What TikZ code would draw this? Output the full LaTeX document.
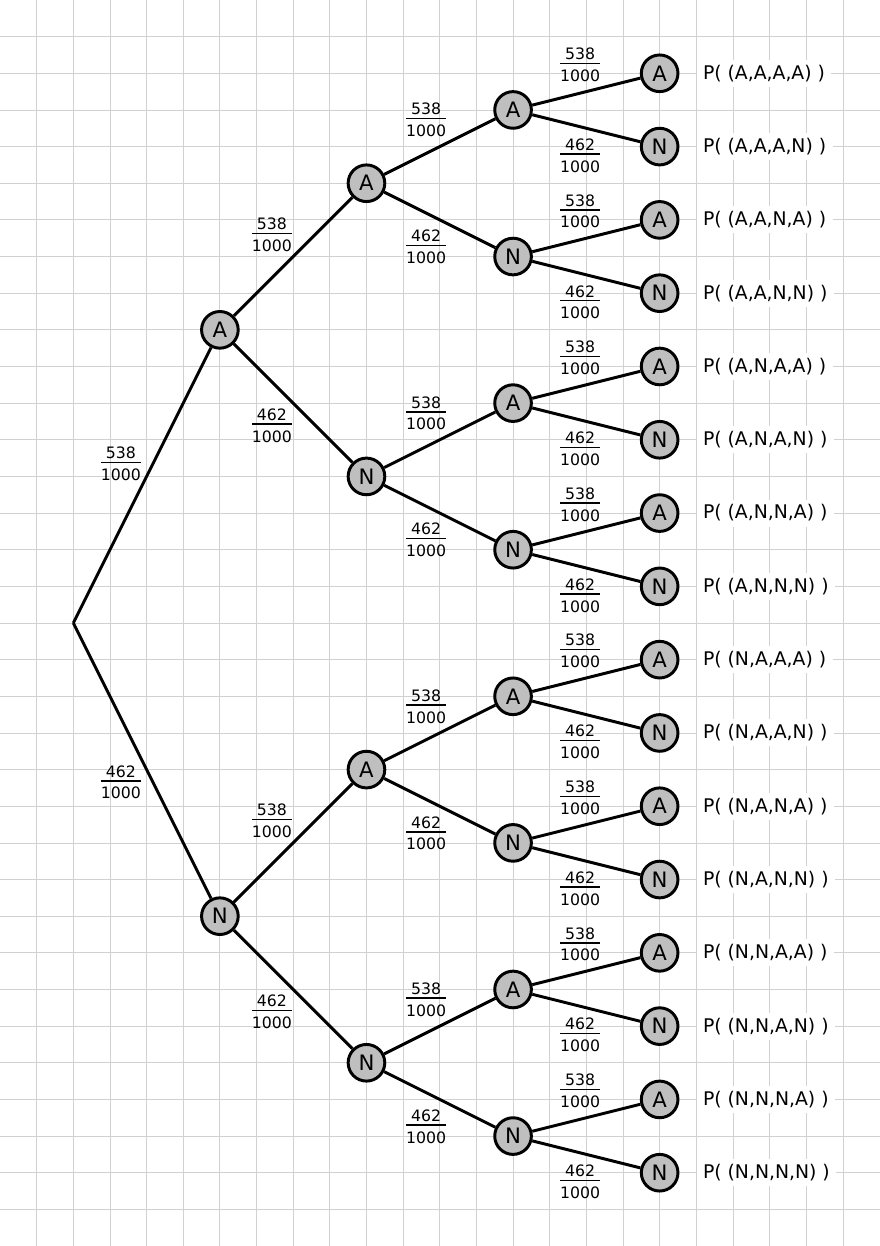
\documentclass[tikz,border=0pt]{standalone}
\usepackage{fontspec}
\setmainfont{DejaVu Sans}
\setlength\arrayrulewidth{1.1pt}
\newcommand\myfr[2]{\begin{tabular}{@{}c@{}}#1\\[-2pt]\hline\rule{0pt}{13.5pt}#2\end{tabular}}
\begin{document}
\begin{tikzpicture}[
  gridline/.style={draw=black!18, line width=0.6pt},
  st/.style={circle, draw=black, fill=black!25, line width=2.3pt, minimum size=1cm, inner sep=0pt, font=\fontsize{16.5}{19}\selectfont},
  edge/.style={draw=black, line width=2.3pt},
  frac/.style={inner sep=0pt, font=\fontsize{12.2}{14.6}\selectfont},
  ptext/.style={anchor=west, fill=white, inner xsep=5pt, inner ysep=4pt, font=\fontsize{14.6}{17}\selectfont}
]
\useasboundingbox (0,0) rectangle (24,-34);
\draw[gridline] (0.001,-0.001) grid[step=1] (23.999,-33.999);
\coordinate (r) at (2,-17);
\foreach \a/\ya/\sa/\pa in {A/9/-1/538, N/25/1/462} {
  \node[st] (\a) at (6,-\ya) {\a};
  \draw[edge] (r) -- (\a);
  \pgfmathsetmacro\la{-(17+\sa*4.34)-0.06}
  \node[frac] (f\a) at (3.30,\la) {\myfr{\pa}{1000}};
  \foreach \b/\db/\pb in {A/-4/538, N/4/462} {
    \pgfmathsetmacro\yb{\ya+\db}
    \node[st] (\a\b) at (10,-\yb) {\b};
    \draw[edge] (\a) -- (\a\b);
    \pgfmathsetmacro\lb{-(\ya+\db*0.65)-0.06}
    \node[frac] (f\a\b) at (7.42,\lb) {\myfr{\pb}{1000}};
    \foreach \c/\dc/\pc in {A/-2/538, N/2/462} {
      \pgfmathsetmacro\yc{\yb+\dc}
      \node[st] (\a\b\c) at (14,-\yc) {\c};
      \draw[edge] (\a\b) -- (\a\b\c);
      \pgfmathsetmacro\lc{-(\yb+\dc*0.865)-0.06}
      \node[frac] (f\a\b\c) at (11.63,\lc) {\myfr{\pc}{1000}};
      \foreach \d/\dd/\pd in {A/-1/538, N/1/462} {
        \pgfmathsetmacro\yd{\yc+\dd}
        \node[st] (\a\b\c\d) at (18,-\yd) {\d};
        \draw[edge] (\a\b\c) -- (\a\b\c\d);
        \pgfmathsetmacro\ld{-(\yc+\dd*1.24)-0.06}
        \node[frac] (f\a\b\c\d) at (15.83,\ld) {\myfr{\pd}{1000}};
        \node[ptext] (t\a\b\c\d) at (19,-\yd) {P( (\a,\b,\c,\d) )\hspace{3pt}};
      }
    }
  }
}
\end{tikzpicture}
\end{document}
